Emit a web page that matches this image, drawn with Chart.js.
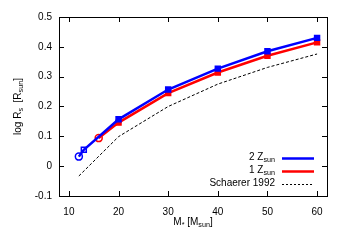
<!DOCTYPE html>
<html><head><meta charset="utf-8">
<script src="https://cdn.jsdelivr.net/npm/chart.js@4"></script>
<style>html,body{margin:0;padding:0;background:#fff}#c{display:block}</style>
</head><body>
<canvas id="c" width="351" height="248"></canvas>
<script>
const xTicks = [10, 20, 30, 40, 50, 60];
const yTicks = [-0.1, 0, 0.1, 0.2, 0.3, 0.4, 0.5];
const mass2Z = [12, 13, 20, 30, 40, 50, 60];
const logR2Z = [0.032, 0.055, 0.157, 0.257, 0.327, 0.385, 0.430];
const mass1Z = [16, 20, 30, 40, 50, 60];
const logR1Z = [0.094, 0.146, 0.245, 0.314, 0.370, 0.415];
const massSch = [12, 20, 30, 40, 50, 60];
const logRSch = [-0.033, 0.099, 0.200, 0.275, 0.331, 0.376];

const FONT = '"Liberation Sans", Arial, sans-serif';
const toXY = (xs, ys) => xs.map((x, i) => ({x, y: ys[i]}));

function drawSub(ctx, parts, x, y, align, size) {
  const subSize = size * 0.72;
  let total = 0;
  const w = parts.map(([t, k]) => { ctx.font = (k === 'sub' ? subSize : size) + 'px ' + FONT; const m = ctx.measureText(t).width; total += m; return m; });
  let cx = align === 'right' ? x - total : (align === 'center' ? x - total / 2 : x);
  ctx.textAlign = 'left'; ctx.textBaseline = 'middle';
  parts.forEach(([t, k], i) => {
    ctx.font = (k === 'sub' ? subSize : size) + 'px ' + FONT;
    ctx.fillText(t, cx, k === 'sub' ? y + size * 0.3 : y);
    cx += w[i];
  });
}

const decor = {
  id: 'decor',
  afterDraw(chart) {
    const ctx = chart.ctx, a = chart.chartArea, xs = chart.scales.x, ys = chart.scales.y;
    ctx.save();
    ctx.strokeStyle = '#000'; ctx.lineWidth = 1;
    ctx.strokeRect(Math.round(a.left) + 0.5, Math.round(a.top) + 0.5, Math.round(a.right - a.left), Math.round(a.bottom - a.top));
    ctx.beginPath();
    xTicks.forEach(v => { const p = Math.round(xs.getPixelForValue(v)) + 0.5;
      ctx.moveTo(p, a.bottom); ctx.lineTo(p, a.bottom - 5); ctx.moveTo(p, a.top); ctx.lineTo(p, a.top + 5); });
    yTicks.forEach(v => { const p = Math.round(ys.getPixelForValue(v)) + 0.5;
      ctx.moveTo(a.left, p); ctx.lineTo(a.left + 5, p); ctx.moveTo(a.right, p); ctx.lineTo(a.right - 5, p); });
    ctx.stroke();
    ctx.fillStyle = '#000';
    drawSub(ctx, [['M', 'n'], ['*', 'sub'], [' [M', 'n'], ['sun', 'sub'], [']', 'n']], (a.left + a.right) / 2, 222, 'center', 10);
    ctx.save();
    ctx.translate(18, (a.top + a.bottom) / 2);
    ctx.rotate(-Math.PI / 2);
    drawSub(ctx, [['log R', 'n'], ['s', 'sub'], ['  [R', 'n'], ['sun', 'sub'], [']', 'n']], 0, 0, 'center', 10);
    ctx.restore();
    const rows = [
      {parts: [['2 Z', 'n'], ['sun', 'sub']], color: '#0000ff', w: 2.5, dash: [], y: 158},
      {parts: [['1 Z', 'n'], ['sun', 'sub']], color: '#ff0000', w: 2.5, dash: [], y: 171},
      {parts: [['Schaerer 1992', 'n']], color: '#000', w: 1, dash: [2, 2], y: 184},
    ];
    rows.forEach(r => {
      ctx.fillStyle = '#000';
      drawSub(ctx, r.parts, 275, r.y - 1, 'right', 10);
      ctx.strokeStyle = r.color; ctx.lineWidth = r.w; ctx.setLineDash(r.dash);
      ctx.beginPath(); ctx.moveTo(282, r.y + 0.5); ctx.lineTo(314, r.y + 0.5); ctx.stroke();
      ctx.setLineDash([]);
    });
    ctx.restore();
  }
};

new Chart(document.getElementById('c'), {
  type: 'scatter',
  data: {
    datasets: [
      {label: 'Schaerer 1992', data: toXY(massSch, logRSch), showLine: true, borderColor: '#000', borderWidth: 1, borderDash: [3, 2], pointRadius: 0, order: 3},
      {label: '1 Zsun', data: toXY(mass1Z, logR1Z), showLine: true, borderColor: '#ff0000', backgroundColor: ['rgba(0,0,0,0)', '#ff0000', '#ff0000', '#ff0000', '#ff0000', '#ff0000'], borderWidth: 2.5, pointStyle: ['circle', 'rect', 'rect', 'rect', 'rect', 'rect'], pointRadius: 3.5, pointBorderWidth: 1.5, order: 2},
      {label: '2 Zsun', data: toXY(mass2Z, logR2Z), showLine: true, borderColor: '#0000ff', backgroundColor: ['rgba(0,0,0,0)', 'rgba(0,0,0,0)', '#0000ff', '#0000ff', '#0000ff', '#0000ff', '#0000ff'], borderWidth: 2.5, pointStyle: ['circle', 'rect', 'rect', 'rect', 'rect', 'rect', 'rect'], pointRadius: 3.5, pointBorderWidth: 1.5, order: 1},
    ]
  },
  options: {
    responsive: false, animation: false,
    layout: {padding: {top: 17, right: 24, left: 0, bottom: 0}},
    plugins: {legend: {display: false}, tooltip: {enabled: false}},
    scales: {
      x: {min: 8, max: 62, grid: {display: false, drawTicks: false}, border: {display: false},
        afterBuildTicks: s => { s.ticks = xTicks.map(v => ({value: v})); },
        afterFit: s => { s.height = 52; },
        ticks: {color: '#000', font: {family: FONT, size: 10}, padding: 10, maxRotation: 0, callback: v => String(v)}},
      y: {min: -0.1, max: 0.5, grid: {display: false, drawTicks: false}, border: {display: false},
        afterBuildTicks: s => { s.ticks = yTicks.map(v => ({value: v})); },
        afterFit: s => { s.width = 59; },
        ticks: {color: '#000', font: {family: FONT, size: 10}, padding: 7, callback: v => String(Math.round(v * 10) / 10)}}
    }
  },
  plugins: [decor]
});
</script>
</body></html>
